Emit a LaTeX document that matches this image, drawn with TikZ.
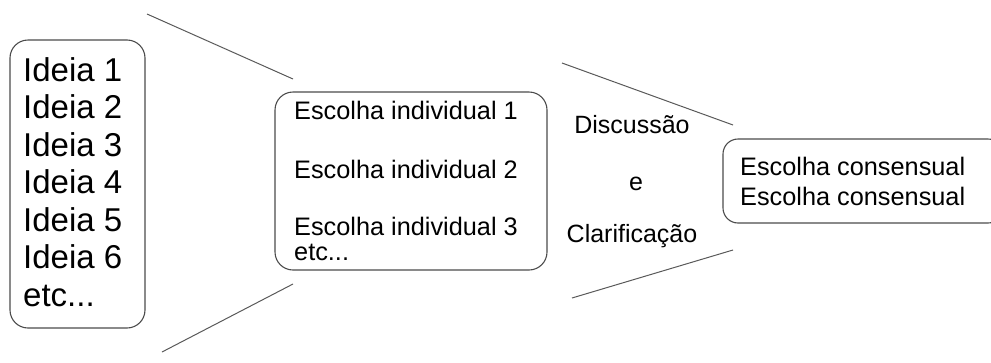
\documentclass[tikz,border=0pt]{standalone}
\usepackage{fontspec}
\setmainfont{Liberation Sans}
\begin{document}
\begin{tikzpicture}[x=1pt,y=-1pt,
  box/.style={draw=black!70, line width=1.1pt, rounded corners=18pt, inner sep=0pt},
  funnel/.style={draw=black!65, line width=1pt},
  big/.style={font=\fontsize{33}{37.5}\selectfont, anchor=base west, inner sep=0pt, text=black},
  mid/.style={font=\fontsize{25.3}{28}\selectfont, anchor=base west, inner sep=0pt, text=black},
  lbl/.style={font=\fontsize{25}{28}\selectfont, anchor=base, inner sep=0pt, text=black}]
\useasboundingbox (0,0) rectangle (991,362);
% boxes
\node[box, minimum width=135pt, minimum height=288pt] (b1) at (77.5,184) {};
\node[box, minimum width=272pt, minimum height=178pt] (b2) at (411,181) {};
\node[box, minimum width=280pt, minimum height=84pt, rounded corners=15pt] (b3) at (863,181) {};
% box 1 texts
\node[big] (i1) at (23,81) {Ideia 1};
\node[big] (i2) at (23,118.5) {Ideia 2};
\node[big] (i3) at (23,156) {Ideia 3};
\node[big] (i4) at (23,193.5) {Ideia 4};
\node[big] (i5) at (23,231) {Ideia 5};
\node[big] (i6) at (23,268.5) {Ideia 6};
\node[big] (i7) at (23,306) {etc...};
% box 2 texts
\node[mid] (e1) at (294,119) {Escolha individual 1};
\node[mid] (e2) at (294,178) {Escolha individual 2};
\node[mid] (e3) at (294,235) {Escolha individual 3};
\node[mid] (e4) at (294,260) {etc...};
% middle labels
\node[lbl] (d1) at (632,133) {Discussão};
\node[lbl] (d2) at (636,190) {e};
\node[lbl] (d3) at (632,242) {Clarificação};
% box 3 texts
\node[mid] (c1) at (740,175) {Escolha consensual};
\node[mid] (c2) at (740,205) {Escolha consensual};
% funnel lines
\coordinate (p1) at (147,14);
\coordinate (p2) at (293,79);
\coordinate (p3) at (162,352);
\coordinate (p4) at (293,284);
\coordinate (p5) at (562,63);
\coordinate (p6) at (733,125);
\coordinate (p7) at (572,298);
\coordinate (p8) at (733,250);
\draw[funnel] (p1) -- (p2);
\draw[funnel] (p3) -- (p4);
\draw[funnel] (p5) -- (p6);
\draw[funnel] (p7) -- (p8);
\end{tikzpicture}
\end{document}
